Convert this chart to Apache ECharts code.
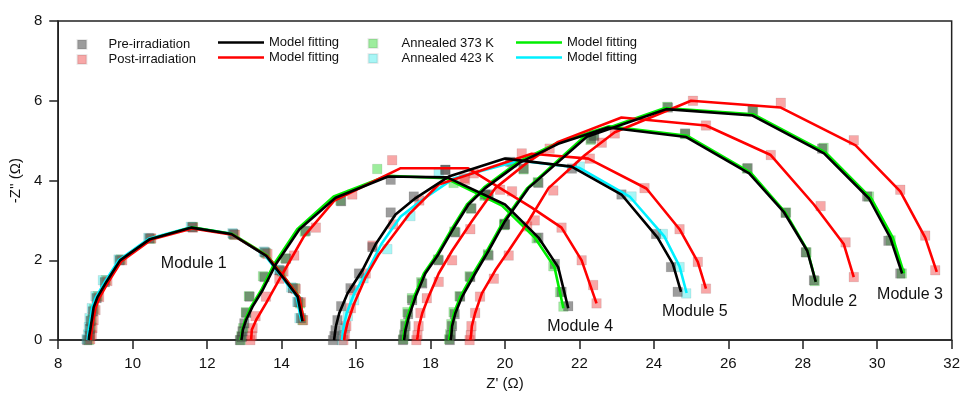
<!DOCTYPE html>
<html>
<head>
<meta charset="utf-8">
<script src="https://cdn.jsdelivr.net/npm/echarts@6/dist/echarts.min.js"></script>
<style>html,body{margin:0;padding:0;background:#fff;}#c{width:963px;height:396px;}</style>
</head>
<body>
<div id="c"></div>
<script>
// ---- axes ----
const X_MIN = 8, X_MAX = 32, X_STEP = 2;
const Y_MIN = 0, Y_MAX = 8, Y_STEP = 2;
const xName = "Z' (\u03A9)";
const yName = "-Z'' (\u03A9)";

// ---- legend names ----
const nPre = 'Pre-irradiation', nPost = 'Post-irradiation', n373 = 'Annealed 373 K', n423 = 'Annealed 423 K';
const fPre = 'fit_pre', fPost = 'fit_post', f373 = 'fit_373', f423 = 'fit_423';
const fitLabel = 'Model fitting';

// ---- Module 1 ----
const m1PreData = [[8.78,0.0],[8.84,0.1],[8.85,0.28],[8.87,0.48],[8.93,0.72],[9.03,1.05],[9.25,1.45],[9.65,2.0],[10.45,2.55],[11.6,2.83],[12.7,2.66],[13.55,2.2],[13.95,1.75],[14.3,1.3],[14.45,0.95],[14.52,0.55]];
const m1PostData = [[8.86,0.02],[8.9,0.12],[8.92,0.3],[8.95,0.5],[9.0,0.75],[9.1,1.08],[9.32,1.48],[9.72,2.0],[10.5,2.55],[11.62,2.82],[12.75,2.64],[13.62,2.16],[14.05,1.72],[14.38,1.28],[14.52,0.95],[14.58,0.5]];
const m1A373Data = [[8.82,0.0],[8.86,0.14],[8.88,0.32],[8.9,0.52],[8.96,0.78],[9.06,1.1],[9.28,1.5],[9.68,2.02],[10.48,2.54],[11.62,2.84],[12.72,2.64],[13.58,2.18],[14.0,1.72],[14.36,1.3],[14.5,0.92],[14.56,0.5]];
const m1A423Data = [[8.76,0.02],[8.8,0.14],[8.82,0.32],[8.84,0.55],[8.9,0.8],[9.0,1.1],[9.2,1.5],[9.62,2.02],[10.42,2.56],[11.56,2.84],[12.68,2.68],[13.52,2.22],[13.92,1.76],[14.26,1.32],[14.42,0.96],[14.48,0.55]];
const m1PreFit = [[8.82,0],[8.83,0.1],[8.86,0.26],[8.9,0.5],[8.95,0.82],[9.05,1.07],[9.3,1.47],[9.66,2.0],[10.46,2.53],[11.58,2.82],[12.65,2.66],[13.58,2.12],[14.03,1.58],[14.43,1.09],[14.56,0.47]];
const m1PostFit = [[8.87,0],[8.88,0.1],[8.9,0.26],[8.94,0.5],[9.0,0.8],[9.1,1.05],[9.34,1.45],[9.7,1.98],[10.5,2.52],[11.6,2.8],[12.68,2.64],[13.62,2.1],[14.08,1.57],[14.48,1.07],[14.6,0.47]];
const m1A373Fit = [[8.84,0],[8.85,0.1],[8.88,0.26],[8.92,0.5],[8.97,0.82],[9.07,1.07],[9.32,1.47],[9.68,2.0],[10.48,2.53],[11.6,2.83],[12.68,2.66],[13.62,2.12],[14.07,1.58],[14.47,1.09],[14.6,0.47]];
const m1A423Fit = [[8.79,0],[8.8,0.1],[8.82,0.26],[8.86,0.5],[8.91,0.82],[9.01,1.07],[9.26,1.47],[9.62,2.0],[10.43,2.54],[11.56,2.83],[12.63,2.67],[13.55,2.13],[14.0,1.59],[14.4,1.1],[14.53,0.47]];

// ---- Module 2 ----
const m2PreData = [[17.26,0.0],[17.3,0.12],[17.33,0.35],[17.4,0.65],[17.51,1.0],[17.78,1.42],[18.22,2.0],[18.67,2.7],[19.1,3.3],[19.56,3.65],[20.5,4.3],[22.32,5.05],[24.84,5.18],[26.52,4.31],[27.54,3.19],[28.08,2.2],[28.3,1.5]];
const m2A373Data = [[17.27,0.02],[17.3,0.15],[17.32,0.4],[17.38,0.7],[17.5,1.05],[17.75,1.45],[18.2,2.02],[18.64,2.72],[19.08,3.3],[19.55,3.62],[20.5,4.28],[22.3,5.02],[24.84,5.16],[26.5,4.3],[27.55,3.2],[28.1,2.2],[28.32,1.48]];
const m2PostData = [[17.62,0.0],[17.65,0.12],[17.68,0.35],[17.73,0.68],[17.9,1.05],[18.22,1.46],[18.58,2.0],[19.07,2.78],[19.87,3.77],[21.2,4.8],[22.95,5.18],[25.4,5.38],[27.14,4.64],[28.48,3.36],[29.15,2.45],[29.37,1.58]];
const m2PreFit = [[17.29,0],[17.31,0.12],[17.33,0.26],[17.42,0.59],[17.6,1.09],[17.86,1.67],[18.22,2.16],[18.58,2.74],[19.02,3.4],[19.47,3.81],[20.4,4.45],[21.43,4.92],[22.77,5.33],[24.87,5.09],[26.56,4.18],[27.5,3.2],[28.12,2.24],[28.35,1.46]];
const m2A373Fit = [[17.26,0],[17.28,0.12],[17.3,0.26],[17.38,0.59],[17.56,1.09],[17.82,1.67],[18.18,2.16],[18.54,2.74],[18.98,3.4],[19.44,3.83],[20.38,4.48],[21.42,4.95],[22.8,5.36],[24.9,5.12],[26.6,4.2],[27.53,3.2],[28.13,2.24],[28.35,1.46]];
const m2PostFit = [[17.64,0],[17.66,0.12],[17.69,0.35],[17.78,0.68],[17.95,1.09],[18.22,1.67],[18.58,2.24],[19.11,2.98],[19.74,3.81],[20.6,4.45],[21.43,4.97],[23.13,5.58],[25.4,5.38],[27.14,4.64],[28.3,3.4],[29.1,2.41],[29.37,1.58]];

// ---- Module 3 ----
const m3PreData = [[18.52,0.0],[18.55,0.12],[18.58,0.35],[18.65,0.65],[18.8,1.09],[19.07,1.58],[19.56,2.12],[20.0,2.9],[20.9,3.94],[22.4,5.12],[24.38,5.83],[26.65,5.75],[28.52,4.8],[29.73,3.6],[30.3,2.49],[30.62,1.67]];
const m3A373Data = [[18.5,0.02],[18.53,0.15],[18.56,0.4],[18.62,0.7],[18.78,1.1],[19.05,1.6],[19.54,2.15],[19.98,2.92],[20.88,3.96],[22.38,5.14],[24.36,5.85],[26.67,5.77],[28.56,4.82],[29.78,3.6],[30.36,2.5],[30.66,1.67]];
const m3PostData = [[19.05,0.0],[19.08,0.12],[19.1,0.35],[19.2,0.68],[19.33,1.09],[19.7,1.54],[20.1,2.12],[20.6,2.85],[21.3,3.75],[22.6,4.95],[25.05,6.0],[27.41,5.95],[29.37,5.01],[30.62,3.77],[31.29,2.62],[31.56,1.75]];
const m3PreFit = [[18.54,0],[18.56,0.12],[18.58,0.35],[18.67,0.68],[18.85,1.09],[19.2,1.67],[19.56,2.24],[20.0,2.98],[20.63,3.81],[22.2,5.1],[24.33,5.79],[26.65,5.63],[28.57,4.68],[29.78,3.55],[30.35,2.57],[30.67,1.67]];
const m3A373Fit = [[18.5,0],[18.52,0.12],[18.55,0.35],[18.63,0.68],[18.8,1.09],[19.15,1.67],[19.52,2.24],[19.96,2.98],[20.6,3.81],[22.15,5.12],[24.3,5.82],[26.68,5.66],[28.62,4.7],[29.84,3.55],[30.42,2.57],[30.72,1.67]];
const m3PostFit = [[19.07,0],[19.09,0.12],[19.11,0.35],[19.2,0.68],[19.38,1.17],[19.74,1.75],[20.1,2.24],[20.63,2.98],[21.17,3.81],[22.15,4.64],[22.95,5.21],[25.0,6.0],[27.41,5.83],[29.42,4.88],[30.62,3.73],[31.29,2.57],[31.6,1.71]];

// ---- Module 4 ----
const m4PreData = [[12.88,0.0],[12.93,0.08],[12.95,0.22],[13.0,0.42],[13.05,0.68],[13.14,1.09],[13.54,1.58],[14.12,2.04],[14.65,2.74],[15.6,3.48],[16.93,4.02],[18.4,4.27],[19.47,3.65],[20.0,2.9],[20.9,2.57],[21.34,1.91],[21.52,1.21],[21.7,0.85]];
const m4A373Data = [[12.9,0.0],[12.92,0.1],[12.97,0.3],[13.04,0.7],[13.12,1.1],[13.5,1.6],[14.1,2.05],[14.62,2.72],[15.58,3.5],[16.57,4.29],[18.62,3.94],[19.45,3.62],[19.98,2.88],[20.85,2.55],[21.3,1.85],[21.48,1.2],[21.57,0.84]];
const m4PostData = [[13.16,0.0],[13.2,0.1],[13.22,0.3],[13.3,0.6],[13.58,1.09],[13.94,1.54],[14.34,2.12],[14.92,2.82],[15.9,3.65],[16.97,4.51],[18.93,4.02],[19.16,4.18],[20.19,3.73],[20.8,3.0],[21.52,2.82],[22.06,2.0],[22.37,1.38],[22.46,0.92]];
const m4PreFit = [[12.92,0],[12.94,0.12],[12.96,0.26],[13.05,0.51],[13.22,0.84],[13.49,1.25],[13.85,1.91],[14.48,2.78],[15.45,3.57],[16.86,4.1],[18.45,4.08],[20.0,3.4],[20.9,2.57],[21.43,1.83],[21.7,0.8]];
const m4A373Fit = [[12.9,0],[12.92,0.12],[12.94,0.26],[13.02,0.51],[13.18,0.84],[13.45,1.25],[13.8,1.91],[14.42,2.78],[15.4,3.6],[16.84,4.12],[18.4,4.06],[19.92,3.37],[20.8,2.57],[21.33,1.83],[21.57,0.8]];
const m4PostFit = [[13.18,0],[13.19,0.12],[13.2,0.26],[13.32,0.51],[13.58,0.92],[14.03,1.67],[14.6,2.6],[15.42,3.5],[17.2,4.31],[19.0,4.31],[20.72,3.32],[21.52,2.82],[22.06,2.0],[22.46,0.92]];

// ---- Module 5 ----
const m5PreData = [[15.38,0.0],[15.42,0.1],[15.45,0.25],[15.5,0.5],[15.6,0.85],[15.85,1.3],[16.08,1.67],[16.44,2.33],[16.93,3.2],[17.55,3.6],[18.4,4.27],[20.14,4.47],[21.8,4.3],[23.13,3.65],[24.06,2.66],[24.46,1.83],[24.64,1.21]];
const m5A423Data = [[15.62,0.0],[15.66,0.12],[15.7,0.3],[15.78,0.6],[15.95,1.0],[16.2,1.55],[16.84,2.28],[17.46,3.11],[18.22,4.18],[20.2,4.45],[22.01,4.35],[23.4,3.6],[24.24,2.66],[24.69,1.83],[24.87,1.17]];
const m5PostData = [[15.66,0.0],[15.7,0.12],[15.74,0.35],[15.86,0.8],[15.95,1.25],[16.26,1.67],[16.44,2.37],[17.0,2.9],[17.7,3.5],[18.9,4.06],[20.45,4.68],[22.28,4.55],[23.75,3.81],[24.69,2.78],[25.18,1.96],[25.4,1.29]];
const m5PreFit = [[15.41,0],[15.43,0.15],[15.46,0.35],[15.55,0.68],[15.77,1.17],[16.17,1.75],[16.53,2.41],[17.06,3.15],[17.6,3.56],[18.49,4.1],[20.0,4.55],[21.79,4.35],[23.13,3.65],[24.1,2.57],[24.51,1.91],[24.73,1.21]];
const m5A423Fit = [[15.62,0],[15.64,0.15],[15.67,0.35],[15.75,0.68],[15.95,1.17],[16.32,1.75],[16.68,2.41],[17.2,3.1],[17.75,3.5],[18.62,4.05],[20.4,4.5],[22.0,4.32],[23.35,3.6],[24.28,2.6],[24.69,1.85],[24.88,1.18]];
const m5PostFit = [[15.68,0],[15.7,0.15],[15.77,0.43],[15.95,0.92],[16.26,1.58],[16.62,2.16],[17.42,3.15],[18.22,3.9],[20.72,4.67],[22.24,4.55],[23.8,3.8],[24.69,2.78],[25.18,1.96],[25.4,1.29]];

// ---- module labels ----
const moduleLabels = [[11.64,1.91,'Module 1'],[28.58,0.97,'Module 2'],[30.88,1.14,'Module 3'],[22.02,0.35,'Module 4'],[25.1,0.72,'Module 5']];

// ---- styles ----
const C_PRE = 'rgba(75,75,75,0.55)', C_POST = 'rgba(240,60,60,0.45)', C_373 = 'rgba(60,220,60,0.5)', C_423 = 'rgba(60,235,235,0.45)';
const L_PRE = '#000000', L_POST = '#ff0000', L_373 = '#00ee00', L_423 = '#00f0ff';
const FONT = 'Liberation Sans, Arial, Helvetica, sans-serif';

function markers(name, data, color) {
  return { type: 'scatter', name, data, symbol: 'rect', symbolSize: 9.5, silent: true, z: 2,
    itemStyle: { color, opacity: 1, borderColor: 'rgba(0,0,0,0.08)', borderWidth: 1 } };
}
function fit(name, data, color, z) {
  return { type: 'line', name, data, symbol: 'none', showSymbol: false, silent: true, z,
    lineStyle: { color, width: 2.6 }, itemStyle: { color } };
}

const series = [
  markers(n373, m1A373Data, C_373), markers(n373, m2A373Data, C_373), markers(n373, m3A373Data, C_373), markers(n373, m4A373Data, C_373),
  markers(n423, m1A423Data, C_423), markers(n423, m5A423Data, C_423),
  markers(nPost, m1PostData, C_POST), markers(nPost, m2PostData, C_POST), markers(nPost, m3PostData, C_POST), markers(nPost, m4PostData, C_POST), markers(nPost, m5PostData, C_POST),
  markers(nPre, m1PreData, C_PRE), markers(nPre, m2PreData, C_PRE), markers(nPre, m3PreData, C_PRE), markers(nPre, m4PreData, C_PRE), markers(nPre, m5PreData, C_PRE),
  fit(f423, m1A423Fit, L_423, 3), fit(f423, m5A423Fit, L_423, 3),
  fit(f373, m1A373Fit, L_373, 4), fit(f373, m2A373Fit, L_373, 4), fit(f373, m3A373Fit, L_373, 4), fit(f373, m4A373Fit, L_373, 4),
  fit(fPost, m1PostFit, L_POST, 5), fit(fPost, m2PostFit, L_POST, 5), fit(fPost, m3PostFit, L_POST, 5), fit(fPost, m4PostFit, L_POST, 5), fit(fPost, m5PostFit, L_POST, 5),
  fit(fPre, m1PreFit, L_PRE, 6), fit(fPre, m2PreFit, L_PRE, 6), fit(fPre, m3PreFit, L_PRE, 6), fit(fPre, m4PreFit, L_PRE, 6), fit(fPre, m5PreFit, L_PRE, 6),
  { type: 'scatter', name: 'labels', data: moduleLabels, symbolSize: 0, silent: true, z: 7,
    itemStyle: { opacity: 1, color: '#000' },
    label: { show: true, position: 'inside', formatter: p => p.value[2], fontSize: 16, color: '#111', opacity: 1, fontFamily: FONT } }
];

const legText = { fontSize: 13, lineHeight: 15, color: '#111', fontFamily: FONT };
const option = {
  animation: false,
  backgroundColor: '#ffffff',
  grid: { left: 57, right: 8, top: 21, bottom: 52, show: true, borderColor: '#222', borderWidth: 1.5, backgroundColor: 'transparent' },
  xAxis: {
    type: 'value', min: X_MIN, max: X_MAX, interval: X_STEP,
    name: xName, nameLocation: 'middle', nameGap: 35,
    nameTextStyle: { fontSize: 15, color: '#111', fontFamily: FONT },
    axisLine: { show: true, lineStyle: { color: '#222', width: 1.5 } },
    axisTick: { show: true, inside: false, length: 9, lineStyle: { color: '#222', width: 1.5 } },
    axisLabel: { fontSize: 15, color: '#111', margin: 16, fontFamily: FONT },
    splitLine: { show: false }
  },
  yAxis: {
    type: 'value', min: Y_MIN, max: Y_MAX, interval: Y_STEP,
    name: yName, nameLocation: 'middle', nameGap: 34, nameRotate: 90,
    nameTextStyle: { fontSize: 15, color: '#111', fontFamily: FONT },
    axisLine: { show: true, lineStyle: { color: '#222', width: 1.5 } },
    axisTick: { show: true, inside: false, length: 9, lineStyle: { color: '#222', width: 1.5 } },
    axisLabel: { fontSize: 15, color: '#111', margin: 16, fontFamily: FONT },
    splitLine: { show: false }
  },
  legend: [
    { data: [nPre, nPost], orient: 'vertical', left: 76.5, top: 37, padding: 0, itemGap: 0, itemWidth: 9, itemHeight: 9, icon: 'rect', selectedMode: false,
      textStyle: Object.assign({ padding: [0, 0, 0, 17] }, legText) },
    { data: [fPre, fPost], orient: 'vertical', left: 218, top: 35, padding: 0, itemGap: 0, itemWidth: 46, itemHeight: 2.5, icon: 'rect', selectedMode: false,
      formatter: () => fitLabel, textStyle: legText },
    { data: [n373, n423], orient: 'vertical', left: 367.5, top: 36, padding: 0, itemGap: 0, itemWidth: 9, itemHeight: 9, icon: 'rect', selectedMode: false,
      textStyle: Object.assign({ padding: [0, 0, 0, 19] }, legText) },
    { data: [f373, f423], orient: 'vertical', left: 516, top: 35, padding: 0, itemGap: 0, itemWidth: 46, itemHeight: 2.5, icon: 'rect', selectedMode: false,
      formatter: () => fitLabel, textStyle: legText }
  ],
  series
};
const chart = echarts.init(document.getElementById('c'), null, { renderer: 'canvas' });
chart.setOption(option);
</script>
</body>
</html>
